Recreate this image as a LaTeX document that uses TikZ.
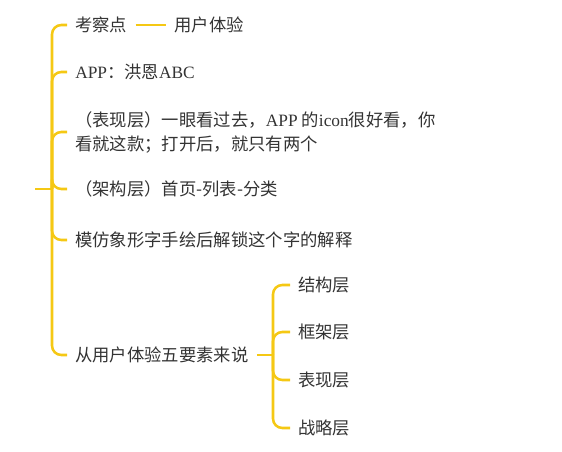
\documentclass[tikz,border=0pt]{standalone}
\usepackage{fontspec}
\usetikzlibrary{positioning}
\setmainfont{Liberation Serif}
\newfontfamily\cjk{Noto Sans CJK SC}
\definecolor{branchyellow}{RGB}{245,200,20}
\definecolor{textgray}{RGB}{51,51,51}
\newcommand{\lat}[1]{{\rmfamily #1}}
\tikzstyle{topic}=[anchor=west,inner xsep=6pt,inner ysep=2pt,text=textgray,font=\cjk\fontsize{13}{18}\selectfont,align=left]
\tikzstyle{link}=[draw=branchyellow,line width=1.9pt,rounded corners=7pt]

\begin{document}
\begin{tikzpicture}[x=0.75pt,y=-0.75pt]
\useasboundingbox (0,0) rectangle (562,452);
\coordinate (root) at (35,189);
\coordinate (hub) at (52,189);
        \node[topic] (kcd) at (67,25) {考察点};
        \node[topic,right=23pt of kcd] (yhty) {用户体验};
        \node[topic] (app) at (67,72) {\lat{APP}：洪恩\lat{ABC}};
        \node[topic] (bxc) at (67,132) {（表现层）一眼看过去，\lat{APP} 的\lat{icon}很好看，你\\看就这款；打开后，就只有两个};
        \node[topic] (jgc) at (67,189) {（架构层）首页-列表-分类};
        \node[topic] (mf) at (67,240) {模仿象形字手绘后解锁这个字的解释};
        \node[topic] (wys) at (67,355) {从用户体验五要素来说};
        \coordinate (hub2) at (273,355);
        \foreach \n/\t/\y in {jg/结构层/285, kj/框架层/332, bx/表现层/380, zl/战略层/428}{
          \node[topic] (\n) at (290,\y) {\t};
        }
        \draw[link] (root) -- (hub);
        \foreach \to in {kcd, app, bxc, jgc, mf, wys}
          \draw[link] (hub) |- (\to.west);
        \draw[link] (kcd) -- (yhty);
        \draw[link] (wys) -- (hub2);
        \foreach \to in {jg, kj, bx, zl}
          \draw[link] (hub2) |- (\to.west);
      \end{tikzpicture}
\end{document}
